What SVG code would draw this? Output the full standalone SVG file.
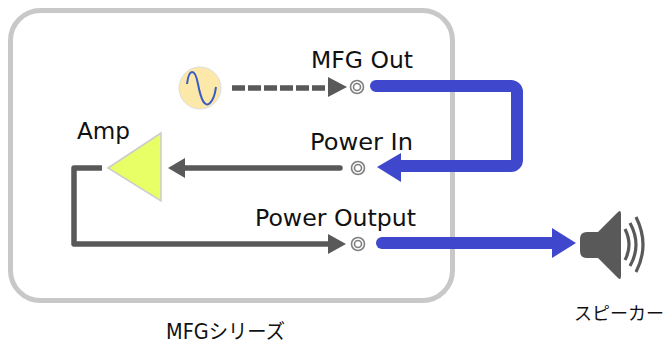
<svg xmlns="http://www.w3.org/2000/svg" width="664" height="347" viewBox="0 0 664 347">
<style>
text{font-family:"DejaVu Sans","Noto Sans CJK JP",sans-serif;fill:#111}
.l{font-size:23px}
.j{font-size:18px}
.g{fill:none;stroke:#595959;stroke-width:5.5;stroke-linejoin:round}
.b{fill:none;stroke:#3f48cc;stroke-width:12;stroke-linecap:round}
.ga{fill:#595959}
.ba{fill:#3f48cc}
.po{fill:#fff;stroke:#7f7f7f;stroke-width:1.6}
</style>
<g id="frame"><rect x="10.500" y="10.500" width="442" height="290" rx="30" fill="#fff" stroke="#c8c8c8" stroke-width="5"/></g>
<g id="connectors">
<path class="g" d="M232 88H330" stroke-dasharray="13 3"/>
<path class="ga" d="M328 77L347 87L328 97Z"/>
<path class="g" d="M340 168H184" stroke-linecap="round"/>
<path class="ga" d="M168 168L185 158V178Z"/>
<path class="g" d="M102 168H74V244H330" stroke-linecap="butt"/>
<path class="ga" d="M328 234L346 244L328 254Z"/>
<path class="b" d="M376 86H511A6 6 0 0 1 517 92V160A6 6 0 0 1 511 166H400"/>
<path class="ba" d="M377 167L401 153V182Z"/>
<path class="b" d="M382 243H555"/>
<path class="ba" d="M552 228L576 243L552 258Z"/>
</g>
<g id="source"><circle cx="200" cy="88" r="21" fill="#fce8a8" stroke="#ddd" stroke-width="1"/>
<path d="M187 84C189 68 195 68 198 84S205 108 210 103S215 92 216 87" fill="none" stroke="#3a5bc7" stroke-width="2"/></g>
<g id="mfg-out"><circle class="po" cx="357" cy="87" r="6.500"/><circle class="po" cx="357" cy="87" r="3.500"/><text class="l" x="311" y="68" textLength="102" lengthAdjust="spacingAndGlyphs">MFG Out</text></g>
<g id="power-in"><circle class="po" cx="358" cy="168" r="6.500"/><circle class="po" cx="358" cy="168" r="3.500"/><text class="l" x="310" y="150" textLength="103" lengthAdjust="spacingAndGlyphs">Power In</text></g>
<g id="power-output"><circle class="po" cx="358" cy="244" r="6.500"/><circle class="po" cx="358" cy="244" r="3.500"/><text class="l" x="255" y="226" textLength="161" lengthAdjust="spacingAndGlyphs">Power Output</text></g>
<g id="amp"><path d="M108 168L161 133V201Z" fill="#e8ff66" stroke="#ccc" stroke-width="1.500"/><text class="l" x="77" y="139" textLength="53" lengthAdjust="spacingAndGlyphs">Amp</text></g>
<g id="speaker">
<path d="M587 232H598L618 212Q621 209 621 214V276Q621 281 618 278L598 258H587Q580 258 580 251V239Q580 232 587 232Z" fill="#595959"/>
<path d="M625 229Q633 245 625 260M630 223Q642 245 630 266M636 217Q650 245 636 272" fill="none" stroke="#595959" stroke-width="3.200"/>
<text class="j" x="574" y="320">スピーカー</text></g>
<g id="caption"><text class="j" x="166" y="339" textLength="119" lengthAdjust="spacingAndGlyphs" style="font-size:20.500px">MFGシリーズ</text></g>
</svg>
